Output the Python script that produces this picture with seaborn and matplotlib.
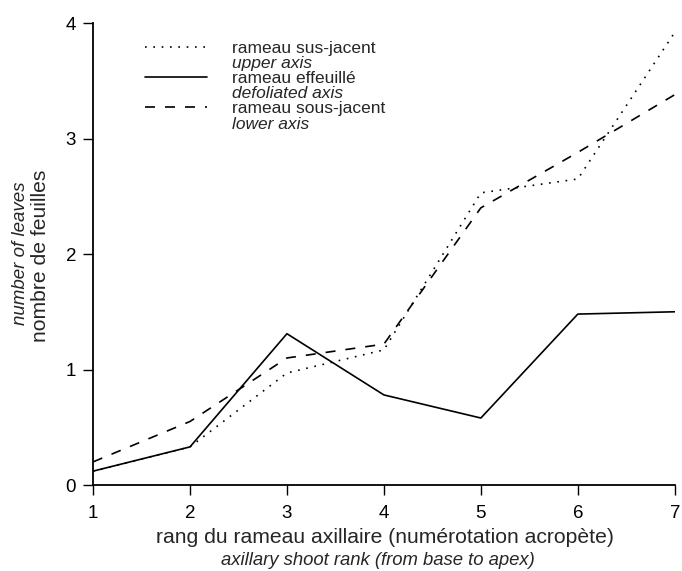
import pandas as pd
import matplotlib
matplotlib.use("Agg")
import matplotlib.pyplot as plt
import seaborn as sns
from matplotlib.lines import Line2D

# data
rang = [1, 2, 3, 4, 5, 6, 7]
sus_jacent = [0.12, 0.33, 0.97, 1.17, 2.53, 2.65, 3.92]
effeuille = [0.12, 0.33, 1.31, 0.78, 0.58, 1.48, 1.50]
sous_jacent = [0.20, 0.55, 1.10, 1.22, 2.40, 2.88, 3.38]

labels_fr = ["rameau sus-jacent", "rameau effeuillé", "rameau sous-jacent"]
labels_en = ["upper axis", "defoliated axis", "lower axis"]
styles = [(0, (1, 4)), "-", (0, (6, 6))]

sns.set_style("ticks")
plt.rcParams['font.family'] = ['Liberation Sans', 'DejaVu Sans']

fig = plt.figure(figsize=(6.82, 5.71), dpi=100)
ax = fig.add_axes([0.1364, 0.1506, 0.853, 0.809])

series = [sus_jacent, effeuille, sous_jacent]
for vals, ls in zip(series, styles):
    df = pd.DataFrame({"rang": rang, "n": vals})
    sns.lineplot(data=df, x="rang", y="n", ax=ax, color="black",
                 linewidth=1.2, linestyle=ls)

ax.set_xlim(1, 7)
ax.set_ylim(0, 4)
ax.set_xticks(rang)
ax.set_yticks([0, 1, 2, 3, 4])
ax.tick_params(axis="both", direction="out", length=7.2, width=1,
               labelsize=13.5, colors="black")
ax.tick_params(axis="x", pad=7)
ax.tick_params(axis="y", pad=5)
sns.despine(ax=ax)
for s in ["left", "bottom"]:
    ax.spines[s].set_linewidth(1.3)
    ax.spines[s].set_color("black")
ax.set_xlabel("")
ax.set_ylabel("")

# legend: french label row with the line, english row in italics
handles, labs = [], []
for ls, fr, en in zip(styles, labels_fr, labels_en):
    handles.append(Line2D([], [], color="black", linewidth=1.2, linestyle=ls))
    labs.append(fr)
    handles.append(Line2D([], [], color="none"))
    labs.append(en)
leg = ax.legend(handles, labs, loc="upper left", bbox_to_anchor=(0.089, 0.962),
                frameon=False, fontsize=12.5, handlelength=3.6, handletextpad=1.45,
                labelspacing=0.0, borderaxespad=0, borderpad=0)
for i, t in enumerate(leg.get_texts()):
    if i % 2 == 1:
        t.set_fontstyle("italic")

# axis titles
fig.text(0.565, 0.058, "rang du rameau axillaire (numérotation acropète)",
         ha="center", va="center", fontsize=15.2)
fig.text(0.554, 0.019, "axillary shoot rank (from base to apex)",
         ha="center", va="center", fontsize=13.3, style="italic")
fig.text(0.059, 0.552, "nombre de feuilles", rotation=90,
         ha="center", va="center", fontsize=15.2)
fig.text(0.030, 0.556, "number of leaves", rotation=90,
         ha="center", va="center", fontsize=13.5, style="italic")

fig.savefig("out.png", dpi=100)
